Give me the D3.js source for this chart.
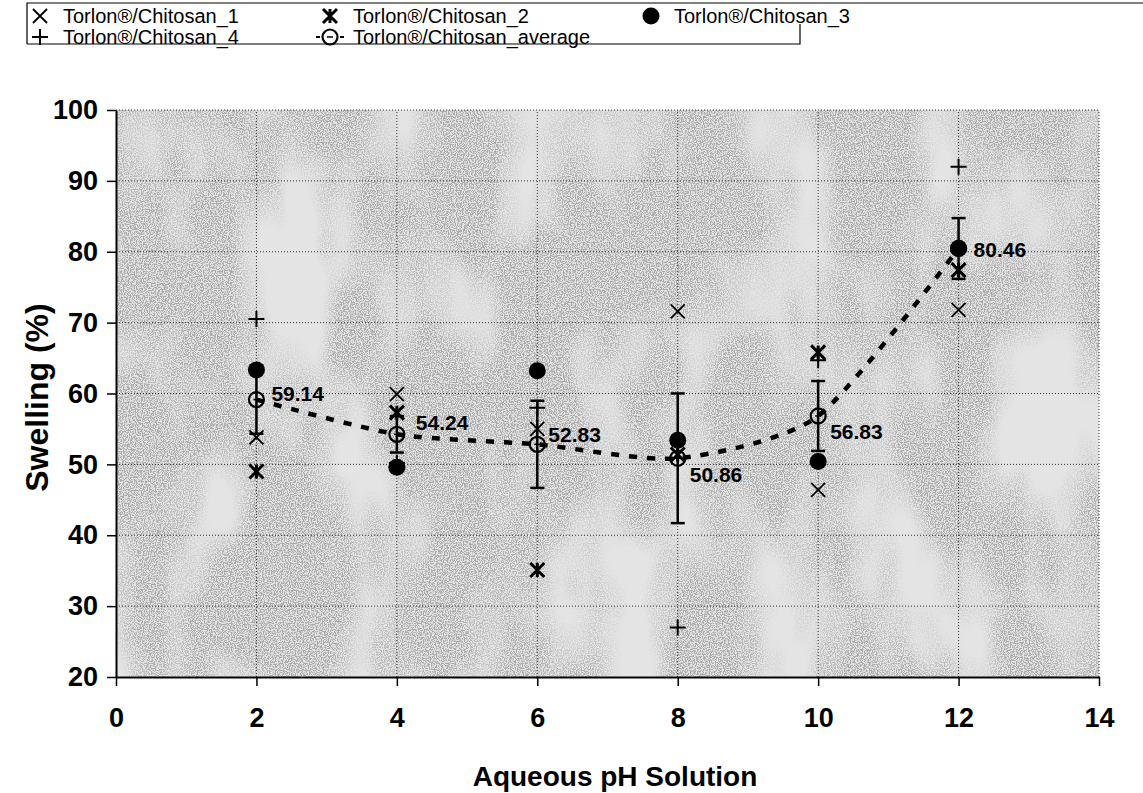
<!DOCTYPE html>
<html>
<head>
<meta charset="utf-8">
<script src="https://cdn.jsdelivr.net/npm/d3@7"></script>
<style>
  body { margin: 0; background: #fff; }
  text { font-family: "Liberation Sans", Arial, sans-serif; }
</style>
</head>
<body>
<script>
var width = 1143;
var height = 793;

// pH values and the four samples + average (Swelling %)
var phValues = [2, 4, 6, 8, 10, 12];
var sample1 = [53.8, 59.9, 55.0, 71.6, 46.4, 71.8];
var sample2 = [49.0, 57.3, 35.1, 51.4, 65.8, 77.4];
var sample3 = [63.3, 49.6, 63.2, 53.4, 50.4, 80.5];
var sample4 = [70.5, 50.2, 58.0, 27.0, 64.7, 92.0];
var average = [59.14, 54.24, 52.83, 50.86, 56.83, 80.46];
var errorBar = [4.82, 2.57, 6.15, 9.15, 4.93, 4.29];
var xTicks = [0, 2, 4, 6, 8, 10, 12, 14];
var yTicks = [20, 30, 40, 50, 60, 70, 80, 90, 100];
var seriesNames = ["Torlon®/Chitosan_1", "Torlon®/Chitosan_2", "Torlon®/Chitosan_3",
                   "Torlon®/Chitosan_4", "Torlon®/Chitosan_average"];

// label nudges (dx, dy) for the average labels
var labelNudge = [[15, -6], [19, -12], [11, -10], [12, 16], [12, 16], [15, 1]];

var margin = {left: 116, right: 44, top: 110, bottom: 116};

var svg = d3.select("body").append("svg")
    .attr("width", width)
    .attr("height", height);

// speckled background texture
var defs = svg.append("defs");
var f = defs.append("filter").attr("id", "speckle")
    .attr("x", 0).attr("y", 0).attr("width", "100%").attr("height", "100%");
f.append("feTurbulence").attr("type", "fractalNoise")
    .attr("baseFrequency", "0.85").attr("numOctaves", 1).attr("seed", 4).attr("result", "fine");
f.append("feColorMatrix").attr("in", "fine").attr("type", "matrix")
    .attr("values", "0 0 0 0 0.4  0 0 0 0 0.4  0 0 0 0 0.4  -7 0 0 0 3.95")
    .attr("result", "dots");
f.append("feTurbulence").attr("type", "fractalNoise")
    .attr("baseFrequency", "0.012 0.006").attr("numOctaves", 3).attr("seed", 9).attr("result", "coarse");
f.append("feColorMatrix").attr("in", "coarse").attr("type", "matrix")
    .attr("values", "0 0 0 0 0  0 0 0 0 0  0 0 0 0 0  3.5 0 0 0 -1.0")
    .attr("result", "mask");
f.append("feComposite").attr("in", "dots").attr("in2", "mask").attr("operator", "in");

var x = d3.scaleLinear().domain([0, 14]).range([margin.left, width - margin.right]);
var y = d3.scaleLinear().domain([20, 100]).range([height - margin.bottom, margin.top]);

svg.append("rect")
    .attr("x", x(0)).attr("y", y(100))
    .attr("width", x(14) - x(0)).attr("height", y(20) - y(100))
    .attr("fill", "#e4e4e4");
svg.append("rect")
    .attr("x", x(0)).attr("y", y(100))
    .attr("width", x(14) - x(0)).attr("height", y(20) - y(100))
    .attr("fill", "#fff")
    .attr("filter", "url(#speckle)");

// gridlines
svg.append("g").selectAll("line")
    .data(yTicks.slice(1))
    .enter().append("line")
    .attr("x1", x(0)).attr("x2", x(14))
    .attr("y1", function(d) { return y(d); })
    .attr("y2", function(d) { return y(d); })
    .attr("stroke", "#333").attr("stroke-width", 1)
    .attr("stroke-dasharray", "1,2");
svg.append("g").selectAll("line")
    .data(xTicks.slice(1))
    .enter().append("line")
    .attr("y1", y(20)).attr("y2", y(100))
    .attr("x1", function(d) { return x(d); })
    .attr("x2", function(d) { return x(d); })
    .attr("stroke", "#333").attr("stroke-width", 1)
    .attr("stroke-dasharray", "1,2");

// axes
var xAxis = svg.append("g")
    .attr("transform", "translate(0," + y(20) + ")")
    .call(d3.axisBottom(x).tickValues(xTicks).tickSize(9).tickPadding(22).tickSizeOuter(0));
var yAxis = svg.append("g")
    .attr("transform", "translate(" + x(0) + ",0)")
    .call(d3.axisLeft(y).tickValues(yTicks).tickSize(9).tickPadding(9).tickSizeOuter(0));
[xAxis, yAxis].forEach(function(a) {
    a.select(".domain").attr("stroke", "#000").attr("stroke-width", 2);
    a.selectAll(".tick line").attr("stroke", "#000").attr("stroke-width", 1.5);
    a.selectAll(".tick text")
        .attr("fill", "#000")
        .style("font-size", "27px")
        .style("font-weight", "bold")
        .style("font-family", "Liberation Sans, Arial, sans-serif");
});

// axis titles
svg.append("text")
    .attr("x", 615)
    .attr("y", 786)
    .attr("text-anchor", "middle")
    .style("font-size", "28px").style("font-weight", "bold")
    .text("Aqueous pH Solution");
svg.append("text")
    .attr("transform", "translate(48," + ((y(20) + y(100)) / 2 + 4) + ") rotate(-90)")
    .attr("text-anchor", "middle")
    .style("font-size", "32px").style("font-weight", "bold")
    .text("Swelling (%)");

// average line (smoothed, dashed)
var pts = phValues.map(function(p, i) { return [p, average[i]]; });
var line = d3.line()
    .x(function(d) { return x(d[0]); })
    .y(function(d) { return y(d[1]); })
    .curve(d3.curveCardinal.tension(0.3));
svg.append("path")
    .datum(pts)
    .attr("d", line)
    .attr("fill", "none")
    .attr("stroke", "#000")
    .attr("stroke-width", 4.5)
    .attr("stroke-dasharray", "8,10");

// error bars
var eb = svg.append("g").selectAll("g")
    .data(phValues)
    .enter().append("g");
eb.append("line")
    .attr("x1", function(d) { return x(d); }).attr("x2", function(d) { return x(d); })
    .attr("y1", function(d, i) { return y(average[i] - errorBar[i]); })
    .attr("y2", function(d, i) { return y(average[i] + errorBar[i]); })
    .attr("stroke", "#000").attr("stroke-width", 2.5);
[-1, 1].forEach(function(s) {
    eb.append("line")
        .attr("x1", function(d) { return x(d) - 7; }).attr("x2", function(d) { return x(d) + 7; })
        .attr("y1", function(d, i) { return y(average[i] + s * errorBar[i]); })
        .attr("y2", function(d, i) { return y(average[i] + s * errorBar[i]); })
        .attr("stroke", "#000").attr("stroke-width", 2.5);
});

// marker shapes
function drawMarker(g, type, cx, cy) {
    if (type === "x") {
        g.append("path")
            .attr("d", "M" + (cx - 7) + "," + (cy - 7) + "L" + (cx + 7) + "," + (cy + 7) +
                       "M" + (cx - 7) + "," + (cy + 7) + "L" + (cx + 7) + "," + (cy - 7))
            .attr("stroke", "#000").attr("stroke-width", 1.8).attr("fill", "none");
    } else if (type === "star") {
        g.append("path")
            .attr("d", "M" + (cx - 7) + "," + (cy - 7) + "L" + (cx + 7) + "," + (cy + 7) +
                       "M" + (cx - 7) + "," + (cy + 7) + "L" + (cx + 7) + "," + (cy - 7) +
                       "M" + cx + "," + (cy - 7) + "L" + cx + "," + (cy + 7))
            .attr("stroke", "#000").attr("stroke-width", 3).attr("fill", "none");
    } else if (type === "dot") {
        g.append("circle").attr("cx", cx).attr("cy", cy).attr("r", 8.5).attr("fill", "#000");
    } else if (type === "plus") {
        g.append("path")
            .attr("d", "M" + (cx - 8) + "," + cy + "L" + (cx + 8) + "," + cy +
                       "M" + cx + "," + (cy - 8) + "L" + cx + "," + (cy + 8))
            .attr("stroke", "#000").attr("stroke-width", 2).attr("fill", "none");
    } else if (type === "ring") {
        g.append("circle").attr("cx", cx).attr("cy", cy).attr("r", 7.5)
            .attr("fill", "none").attr("stroke", "#000").attr("stroke-width", 2.2);
        g.append("line").attr("x1", cx - 3).attr("x2", cx + 3)
            .attr("y1", cy).attr("y2", cy)
            .attr("stroke", "#000").attr("stroke-width", 1.5);
    }
}

var series = [
    {values: sample1, type: "x"},
    {values: sample2, type: "star"},
    {values: sample3, type: "dot"},
    {values: sample4, type: "plus"},
    {values: average, type: "ring"}
];
var markers = svg.append("g");
series.forEach(function(s) {
    s.values.forEach(function(v, i) {
        drawMarker(markers, s.type, x(phValues[i]), y(v));
    });
});

// average labels
svg.append("g").selectAll("text")
    .data(average)
    .enter().append("text")
    .attr("x", function(d, i) { return x(phValues[i]) + labelNudge[i][0]; })
    .attr("y", function(d, i) { return y(d) + labelNudge[i][1]; })
    .attr("dy", "0.35em")
    .style("font-size", "21px").style("font-weight", "bold")
    .text(function(d) { return d.toFixed(2); });

// legend
var lg = svg.append("g");
lg.append("path")
    .attr("d", "M27,44 L27,3 L1143,3 M27,44 L800,44 L800,24")
    .attr("fill", "none").attr("stroke", "#000").attr("stroke-width", 1.2);
var legendPos = [[40, 16], [330, 16], [651, 16], [40, 37], [330, 37]];
var legendTypes = ["x", "star", "dot", "plus", "ring"];
seriesNames.forEach(function(name, i) {
    var p = legendPos[i];
    var g = lg.append("g");
    if (legendTypes[i] === "ring") {
        g.append("line").attr("x1", p[0] - 14).attr("x2", p[0] - 10).attr("y1", p[1]).attr("y2", p[1])
            .attr("stroke", "#000").attr("stroke-width", 2);
        g.append("line").attr("x1", p[0] + 10).attr("x2", p[0] + 14).attr("y1", p[1]).attr("y2", p[1])
            .attr("stroke", "#000").attr("stroke-width", 2);
    }
    drawMarker(g, legendTypes[i], p[0], p[1]);
    lg.append("text")
        .attr("x", p[0] + 23).attr("y", p[1])
        .attr("dy", "0.35em")
        .style("font-size", "20px")
        .text(name);
});
</script>
</body>
</html>
